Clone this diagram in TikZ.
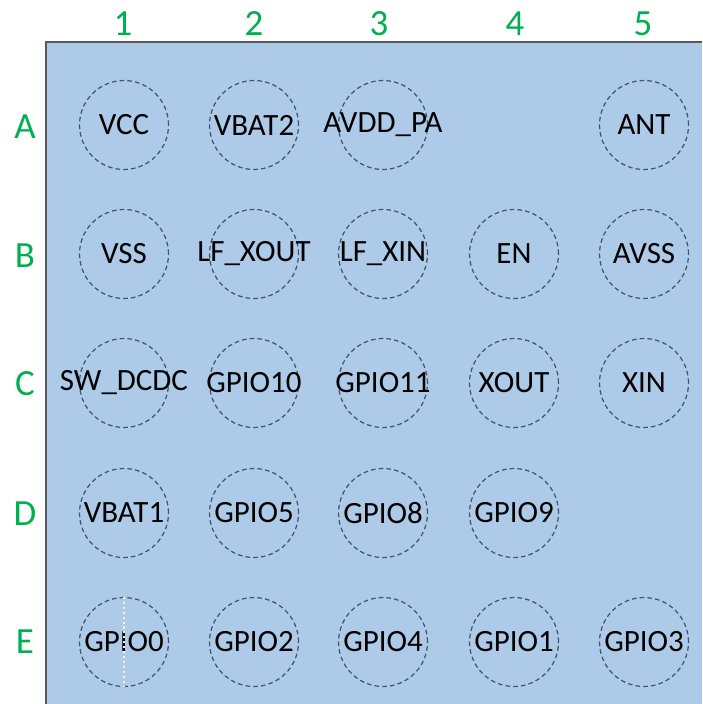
\documentclass[tikz,border=0pt]{standalone}
\usepackage{fontspec}
\setmainfont{Carlito}
\usepackage{xcolor}
\usepackage{tikz}
\usetikzlibrary{positioning}
\definecolor{boardBlue}{RGB}{173, 203, 232}
\definecolor{gridGreen}{RGB}{0, 176, 80}
\definecolor{padGray}{RGB}{68, 84, 106}
\definecolor{edgeGray}{RGB}{89, 89, 89}
\tikzset{
    pad/.style={circle, draw=padGray, dash pattern=on 1.3pt off 0.9pt, line width=0.35pt,
        minimum size=89*0.01cm, inner sep=0pt, label={[font=\fontsize{8.8}{10}\selectfont]center:#1}},
    gridlabel/.style={text=gridGreen, font=\fontsize{10.5}{12}\selectfont}
}

\begin{document}
\begin{tikzpicture}[x=0.01cm, y=-0.01cm]
        \useasboundingbox (0,0) rectangle (702,704);
        \fill[boardBlue] (46,42) rectangle (702,704);
        \draw[edgeGray, line width=0.5pt] (46,704)--(46,42)--(702,42);
        
        % column and row labels
        \node[gridlabel] (c1) at (123,24) {1};
        \node[gridlabel] (c2) at (254,24) {2};
        \node[gridlabel] (c3) at (379,24) {3};
        \node[gridlabel] (c4) at (515,24) {4};
        \node[gridlabel] (c5) at (643,24) {5};
        \node[gridlabel] (rA) at (25,127) {A};
        \node[gridlabel] (rB) at (25,256) {B};
        \node[gridlabel] (rC) at (25,384) {C};
        \node[gridlabel] (rD) at (25,514) {D};
        \node[gridlabel] (rE) at (25,642) {E};
        
        % row A
        \node[pad=VCC] (A1) at (124,125) {};
        \node[pad=VBAT2] (A2) at (254,125) {};
        \node[pad=AVDD\_PA] (A3) at (383,125) {};
        \node[pad=ANT] (A5) at (644,125) {};
        % row B
        \node[pad=VSS] (B1) at (124,254) {};
        \node[pad=LF\_XOUT] (B2) at (254,254) {};
        \node[pad=LF\_XIN] (B3) at (383,254) {};
        \node[pad=EN] (B4) at (514,254) {};
        \node[pad=AVSS] (B5) at (644,254) {};
        % row C
        \node[pad=SW\_DCDC] (C1) at (124,383) {};
        \node[pad=GPIO10] (C2) at (254,383) {};
        \node[pad=GPIO11] (C3) at (383,383) {};
        \node[pad=XOUT] (C4) at (514,383) {};
        \node[pad=XIN] (C5) at (644,383) {};
        % row D
        \node[pad=VBAT1] (D1) at (124,513) {};
        \node[pad=GPIO5] (D2) at (254,513) {};
        \node[pad=GPIO8] (D3) at (383,513) {};
        \node[pad=GPIO9] (D4) at (514,513) {};
        % row E
        \node[pad=GPIO0] (E1) at (124,642) {};
        \node[pad=GPIO2] (E2) at (254,642) {};
        \node[pad=GPIO4] (E3) at (383,642) {};
        \node[pad=GPIO1] (E4) at (514,642) {};
        \node[pad=GPIO3] (E5) at (644,642) {};
        
        \draw[white!85!orange, line width=0.6pt, dash pattern=on 0.6pt off 0.8pt] (E1.north)--(E1.south);
    \end{tikzpicture}
\end{document}
